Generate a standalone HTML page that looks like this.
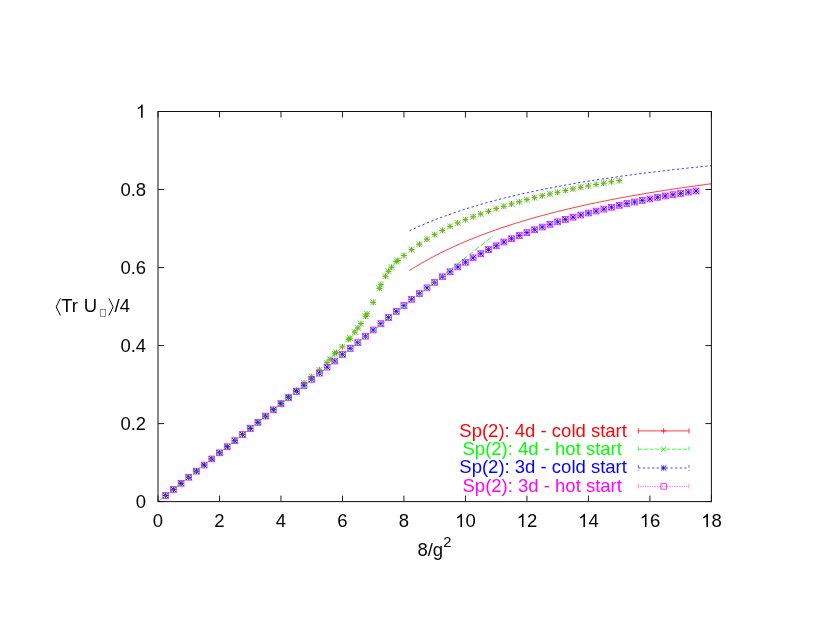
<!DOCTYPE html>
<html><head><meta charset="utf-8"><title>plot</title>
<style>
html,body{margin:0;padding:0;background:#fff;}
svg{display:block;font-family:"Liberation Sans",sans-serif;}
.d path,.d rect,.d polyline{stroke-width:0.75;fill:none}
.d .f polyline{stroke-width:0.8}
.d path.x{stroke-width:0.9}
.d .f polyline.g{stroke-width:0.85}
</style></head><body>
<svg width="817" height="632" viewBox="0 0 817 632">
<rect width="817" height="632" fill="#fff"/>
<g class="d">
<path d="M162.79 495.50H168.59M165.69 492.60V498.40" stroke="#ff0000"/>
<path d="M170.47 489.41H176.27M173.37 486.51V492.31" stroke="#ff0000"/>
<path d="M178.16 483.31H183.96M181.06 480.41V486.21" stroke="#ff0000"/>
<path d="M185.84 477.22H191.64M188.74 474.32V480.12" stroke="#ff0000"/>
<path d="M193.53 471.12H199.33M196.43 468.22V474.02" stroke="#ff0000"/>
<path d="M201.22 465.03H207.02M204.12 462.13V467.93" stroke="#ff0000"/>
<path d="M208.90 458.93H214.70M211.80 456.03V461.83" stroke="#ff0000"/>
<path d="M216.59 452.84H222.39M219.49 449.94V455.74" stroke="#ff0000"/>
<path d="M224.28 446.74H230.08M227.18 443.84V449.64" stroke="#ff0000"/>
<path d="M231.96 440.65H237.76M234.86 437.75V443.55" stroke="#ff0000"/>
<path d="M239.65 434.55H245.45M242.55 431.65V437.45" stroke="#ff0000"/>
<path d="M247.33 428.46H253.13M250.23 425.56V431.36" stroke="#ff0000"/>
<path d="M255.02 422.36H260.82M257.92 419.46V425.26" stroke="#ff0000"/>
<path d="M262.71 416.27H268.51M265.61 413.37V419.17" stroke="#ff0000"/>
<path d="M270.39 409.59H276.19M273.29 406.69V412.49" stroke="#ff0000"/>
<path d="M278.08 403.10H283.88M280.98 400.20V406.00" stroke="#ff0000"/>
<path d="M285.76 396.61H291.56M288.66 393.71V399.51" stroke="#ff0000"/>
<path d="M293.45 390.07H299.25M296.35 387.17V392.97" stroke="#ff0000"/>
<path d="M301.14 382.97H306.94M304.04 380.07V385.87" stroke="#ff0000"/>
<path d="M308.82 376.57H314.62M311.72 373.67V379.47" stroke="#ff0000"/>
<path d="M316.51 369.86H322.31M319.41 366.96V372.76" stroke="#ff0000"/>
<path d="M324.19 362.76H329.99M327.09 359.86V365.66" stroke="#ff0000"/>
<path d="M327.27 359.17H333.07M330.17 356.27V362.07" stroke="#ff0000"/>
<path d="M331.88 353.75H337.68M334.78 350.85V356.65" stroke="#ff0000"/>
<path d="M333.42 352.39H339.22M336.32 349.49V355.29" stroke="#ff0000"/>
<path d="M339.57 346.85H345.37M342.47 343.95V349.75" stroke="#ff0000"/>
<path d="M345.72 339.32H351.52M348.62 336.42V342.22" stroke="#ff0000"/>
<path d="M347.25 338.15H353.05M350.15 335.25V341.05" stroke="#ff0000"/>
<path d="M351.86 332.02H357.66M354.76 329.12V334.92" stroke="#ff0000"/>
<path d="M354.94 328.01H360.74M357.84 325.11V330.91" stroke="#ff0000"/>
<path d="M358.01 323.60H363.81M360.91 320.70V326.50" stroke="#ff0000"/>
<path d="M362.62 316.30H368.42M365.52 313.40V319.20" stroke="#ff0000"/>
<path d="M364.16 313.96H369.96M367.06 311.06V316.86" stroke="#ff0000"/>
<path d="M370.31 302.26H376.11M373.21 299.36V305.16" stroke="#ff0000"/>
<path d="M376.46 288.33H382.26M379.36 285.43V291.23" stroke="#ff0000"/>
<path d="M378.00 284.51H383.80M380.90 281.61V287.41" stroke="#ff0000"/>
<path d="M382.61 276.24H388.41M385.51 273.34V279.14" stroke="#ff0000"/>
<path d="M385.68 271.25H391.48M388.58 268.35V274.15" stroke="#ff0000"/>
<path d="M388.76 267.15H394.56M391.66 264.25V270.05" stroke="#ff0000"/>
<path d="M393.37 261.49H399.17M396.27 258.59V264.39" stroke="#ff0000"/>
<path d="M394.91 260.52H400.71M397.81 257.62V263.42" stroke="#ff0000"/>
<path d="M401.06 255.45H406.86M403.96 252.55V258.35" stroke="#ff0000"/>
<path d="M408.74 249.60H414.54M411.64 246.70V252.50" stroke="#ff0000"/>
<path d="M416.43 244.13H422.23M419.33 241.23V247.03" stroke="#ff0000"/>
<path d="M424.11 239.14H429.91M427.01 236.24V242.04" stroke="#ff0000"/>
<path d="M431.80 234.65H437.60M434.70 231.75V237.55" stroke="#ff0000"/>
<path d="M439.49 230.48H445.29M442.39 227.58V233.38" stroke="#ff0000"/>
<path d="M447.17 226.38H452.97M450.07 223.48V229.28" stroke="#ff0000"/>
<path d="M454.86 222.95H460.66M457.76 220.05V225.85" stroke="#ff0000"/>
<path d="M462.54 219.79H468.34M465.44 216.89V222.69" stroke="#ff0000"/>
<path d="M470.23 216.83H476.03M473.13 213.93V219.73" stroke="#ff0000"/>
<path d="M477.92 213.98H483.72M480.82 211.08V216.88" stroke="#ff0000"/>
<path d="M485.60 211.44H491.40M488.50 208.54V214.34" stroke="#ff0000"/>
<path d="M493.29 208.71H499.09M496.19 205.81V211.61" stroke="#ff0000"/>
<path d="M500.98 206.29H506.77M503.88 203.39V209.19" stroke="#ff0000"/>
<path d="M508.66 203.95H514.46M511.56 201.05V206.85" stroke="#ff0000"/>
<path d="M516.35 201.89H522.15M519.25 198.99V204.79" stroke="#ff0000"/>
<path d="M524.03 199.66H529.83M526.93 196.76V202.56" stroke="#ff0000"/>
<path d="M531.72 197.75H537.52M534.62 194.85V200.65" stroke="#ff0000"/>
<path d="M539.41 195.72H545.21M542.31 192.82V198.62" stroke="#ff0000"/>
<path d="M547.09 193.97H552.89M549.99 191.07V196.87" stroke="#ff0000"/>
<path d="M554.78 192.25H560.58M557.68 189.35V195.15" stroke="#ff0000"/>
<path d="M562.46 190.50H568.26M565.36 187.60V193.40" stroke="#ff0000"/>
<path d="M570.15 188.90H575.95M573.05 186.00V191.80" stroke="#ff0000"/>
<path d="M577.84 187.34H583.64M580.74 184.44V190.24" stroke="#ff0000"/>
<path d="M585.52 185.93H591.32M588.42 183.03V188.83" stroke="#ff0000"/>
<path d="M593.21 184.45H599.01M596.11 181.55V187.35" stroke="#ff0000"/>
<path d="M600.89 183.20H606.69M603.79 180.30V186.10" stroke="#ff0000"/>
<path d="M608.58 181.72H614.38M611.48 178.82V184.62" stroke="#ff0000"/>
<path d="M616.27 180.63H622.07M619.17 177.73V183.53" stroke="#ff0000"/>
<path d="M162.79 495.50H166.27" stroke="#00ff00"/><path d="M162.79 492.60L168.59 498.40M162.79 498.40L168.59 492.60" stroke="#00ff00" class="x"/>
<path d="M170.47 489.41H173.95" stroke="#00ff00"/><path d="M170.47 486.51L176.27 492.31M170.47 492.31L176.27 486.51" stroke="#00ff00" class="x"/>
<path d="M178.16 483.31H181.64" stroke="#00ff00"/><path d="M178.16 480.41L183.96 486.21M178.16 486.21L183.96 480.41" stroke="#00ff00" class="x"/>
<path d="M185.84 477.22H189.32" stroke="#00ff00"/><path d="M185.84 474.32L191.64 480.12M185.84 480.12L191.64 474.32" stroke="#00ff00" class="x"/>
<path d="M193.53 471.12H197.01" stroke="#00ff00"/><path d="M193.53 468.22L199.33 474.02M193.53 474.02L199.33 468.22" stroke="#00ff00" class="x"/>
<path d="M201.22 465.03H204.70" stroke="#00ff00"/><path d="M201.22 462.13L207.02 467.93M201.22 467.93L207.02 462.13" stroke="#00ff00" class="x"/>
<path d="M208.90 458.93H212.38" stroke="#00ff00"/><path d="M208.90 456.03L214.70 461.83M208.90 461.83L214.70 456.03" stroke="#00ff00" class="x"/>
<path d="M216.59 452.84H220.07" stroke="#00ff00"/><path d="M216.59 449.94L222.39 455.74M216.59 455.74L222.39 449.94" stroke="#00ff00" class="x"/>
<path d="M224.28 446.74H227.76" stroke="#00ff00"/><path d="M224.28 443.84L230.08 449.64M224.28 449.64L230.08 443.84" stroke="#00ff00" class="x"/>
<path d="M231.96 440.65H235.44" stroke="#00ff00"/><path d="M231.96 437.75L237.76 443.55M231.96 443.55L237.76 437.75" stroke="#00ff00" class="x"/>
<path d="M239.65 434.55H243.13" stroke="#00ff00"/><path d="M239.65 431.65L245.45 437.45M239.65 437.45L245.45 431.65" stroke="#00ff00" class="x"/>
<path d="M247.33 428.46H250.81" stroke="#00ff00"/><path d="M247.33 425.56L253.13 431.36M247.33 431.36L253.13 425.56" stroke="#00ff00" class="x"/>
<path d="M255.02 422.36H258.50" stroke="#00ff00"/><path d="M255.02 419.46L260.82 425.26M255.02 425.26L260.82 419.46" stroke="#00ff00" class="x"/>
<path d="M262.71 416.27H266.19" stroke="#00ff00"/><path d="M262.71 413.37L268.51 419.17M262.71 419.17L268.51 413.37" stroke="#00ff00" class="x"/>
<path d="M270.39 409.59H273.87" stroke="#00ff00"/><path d="M270.39 406.69L276.19 412.49M270.39 412.49L276.19 406.69" stroke="#00ff00" class="x"/>
<path d="M278.08 403.10H281.56" stroke="#00ff00"/><path d="M278.08 400.20L283.88 406.00M278.08 406.00L283.88 400.20" stroke="#00ff00" class="x"/>
<path d="M285.76 396.61H289.24" stroke="#00ff00"/><path d="M285.76 393.71L291.56 399.51M285.76 399.51L291.56 393.71" stroke="#00ff00" class="x"/>
<path d="M293.45 390.07H296.93" stroke="#00ff00"/><path d="M293.45 387.17L299.25 392.97M293.45 392.97L299.25 387.17" stroke="#00ff00" class="x"/>
<path d="M301.14 382.97H304.62" stroke="#00ff00"/><path d="M301.14 380.07L306.94 385.87M301.14 385.87L306.94 380.07" stroke="#00ff00" class="x"/>
<path d="M308.82 376.57H312.30" stroke="#00ff00"/><path d="M308.82 373.67L314.62 379.47M308.82 379.47L314.62 373.67" stroke="#00ff00" class="x"/>
<path d="M316.51 369.86H319.99" stroke="#00ff00"/><path d="M316.51 366.96L322.31 372.76M316.51 372.76L322.31 366.96" stroke="#00ff00" class="x"/>
<path d="M324.19 362.76H327.67" stroke="#00ff00"/><path d="M324.19 359.86L329.99 365.66M324.19 365.66L329.99 359.86" stroke="#00ff00" class="x"/>
<path d="M327.27 359.17H330.75" stroke="#00ff00"/><path d="M327.27 356.27L333.07 362.07M327.27 362.07L333.07 356.27" stroke="#00ff00" class="x"/>
<path d="M331.88 353.75H335.36" stroke="#00ff00"/><path d="M331.88 350.85L337.68 356.65M331.88 356.65L337.68 350.85" stroke="#00ff00" class="x"/>
<path d="M333.42 352.39H336.90" stroke="#00ff00"/><path d="M333.42 349.49L339.22 355.29M333.42 355.29L339.22 349.49" stroke="#00ff00" class="x"/>
<path d="M339.57 346.85H343.05" stroke="#00ff00"/><path d="M339.57 343.95L345.37 349.75M339.57 349.75L345.37 343.95" stroke="#00ff00" class="x"/>
<path d="M345.72 339.32H349.20" stroke="#00ff00"/><path d="M345.72 336.42L351.52 342.22M345.72 342.22L351.52 336.42" stroke="#00ff00" class="x"/>
<path d="M347.25 338.15H350.73" stroke="#00ff00"/><path d="M347.25 335.25L353.05 341.05M347.25 341.05L353.05 335.25" stroke="#00ff00" class="x"/>
<path d="M351.86 332.02H355.34" stroke="#00ff00"/><path d="M351.86 329.12L357.66 334.92M351.86 334.92L357.66 329.12" stroke="#00ff00" class="x"/>
<path d="M354.94 328.01H358.42" stroke="#00ff00"/><path d="M354.94 325.11L360.74 330.91M354.94 330.91L360.74 325.11" stroke="#00ff00" class="x"/>
<path d="M358.01 323.60H361.49" stroke="#00ff00"/><path d="M358.01 320.70L363.81 326.50M358.01 326.50L363.81 320.70" stroke="#00ff00" class="x"/>
<path d="M362.62 316.30H366.10" stroke="#00ff00"/><path d="M362.62 313.40L368.42 319.20M362.62 319.20L368.42 313.40" stroke="#00ff00" class="x"/>
<path d="M364.16 313.96H367.64" stroke="#00ff00"/><path d="M364.16 311.06L369.96 316.86M364.16 316.86L369.96 311.06" stroke="#00ff00" class="x"/>
<path d="M370.31 302.26H373.79" stroke="#00ff00"/><path d="M370.31 299.36L376.11 305.16M370.31 305.16L376.11 299.36" stroke="#00ff00" class="x"/>
<path d="M376.46 288.33H379.94" stroke="#00ff00"/><path d="M376.46 285.43L382.26 291.23M376.46 291.23L382.26 285.43" stroke="#00ff00" class="x"/>
<path d="M378.00 284.51H381.48" stroke="#00ff00"/><path d="M378.00 281.61L383.80 287.41M378.00 287.41L383.80 281.61" stroke="#00ff00" class="x"/>
<path d="M382.61 276.24H386.09" stroke="#00ff00"/><path d="M382.61 273.34L388.41 279.14M382.61 279.14L388.41 273.34" stroke="#00ff00" class="x"/>
<path d="M385.68 271.25H389.16" stroke="#00ff00"/><path d="M385.68 268.35L391.48 274.15M385.68 274.15L391.48 268.35" stroke="#00ff00" class="x"/>
<path d="M388.76 267.15H392.24" stroke="#00ff00"/><path d="M388.76 264.25L394.56 270.05M388.76 270.05L394.56 264.25" stroke="#00ff00" class="x"/>
<path d="M393.37 261.49H396.85" stroke="#00ff00"/><path d="M393.37 258.59L399.17 264.39M393.37 264.39L399.17 258.59" stroke="#00ff00" class="x"/>
<path d="M394.91 260.52H398.39" stroke="#00ff00"/><path d="M394.91 257.62L400.71 263.42M394.91 263.42L400.71 257.62" stroke="#00ff00" class="x"/>
<path d="M401.06 255.45H404.54" stroke="#00ff00"/><path d="M401.06 252.55L406.86 258.35M401.06 258.35L406.86 252.55" stroke="#00ff00" class="x"/>
<path d="M408.74 249.60H412.22" stroke="#00ff00"/><path d="M408.74 246.70L414.54 252.50M408.74 252.50L414.54 246.70" stroke="#00ff00" class="x"/>
<path d="M416.43 244.13H419.91" stroke="#00ff00"/><path d="M416.43 241.23L422.23 247.03M416.43 247.03L422.23 241.23" stroke="#00ff00" class="x"/>
<path d="M424.11 239.14H427.59" stroke="#00ff00"/><path d="M424.11 236.24L429.91 242.04M424.11 242.04L429.91 236.24" stroke="#00ff00" class="x"/>
<path d="M431.80 234.65H435.28" stroke="#00ff00"/><path d="M431.80 231.75L437.60 237.55M431.80 237.55L437.60 231.75" stroke="#00ff00" class="x"/>
<path d="M439.49 230.48H442.97" stroke="#00ff00"/><path d="M439.49 227.58L445.29 233.38M439.49 233.38L445.29 227.58" stroke="#00ff00" class="x"/>
<path d="M447.17 226.38H450.65" stroke="#00ff00"/><path d="M447.17 223.48L452.97 229.28M447.17 229.28L452.97 223.48" stroke="#00ff00" class="x"/>
<path d="M454.86 222.95H458.34" stroke="#00ff00"/><path d="M454.86 220.05L460.66 225.85M454.86 225.85L460.66 220.05" stroke="#00ff00" class="x"/>
<path d="M462.54 219.79H466.02" stroke="#00ff00"/><path d="M462.54 216.89L468.34 222.69M462.54 222.69L468.34 216.89" stroke="#00ff00" class="x"/>
<path d="M470.23 216.83H473.71" stroke="#00ff00"/><path d="M470.23 213.93L476.03 219.73M470.23 219.73L476.03 213.93" stroke="#00ff00" class="x"/>
<path d="M477.92 213.98H481.40" stroke="#00ff00"/><path d="M477.92 211.08L483.72 216.88M477.92 216.88L483.72 211.08" stroke="#00ff00" class="x"/>
<path d="M485.60 211.44H489.08" stroke="#00ff00"/><path d="M485.60 208.54L491.40 214.34M485.60 214.34L491.40 208.54" stroke="#00ff00" class="x"/>
<path d="M493.29 208.71H496.77" stroke="#00ff00"/><path d="M493.29 205.81L499.09 211.61M493.29 211.61L499.09 205.81" stroke="#00ff00" class="x"/>
<path d="M500.98 206.29H504.45" stroke="#00ff00"/><path d="M500.98 203.39L506.77 209.19M500.98 209.19L506.77 203.39" stroke="#00ff00" class="x"/>
<path d="M508.66 203.95H512.14" stroke="#00ff00"/><path d="M508.66 201.05L514.46 206.85M508.66 206.85L514.46 201.05" stroke="#00ff00" class="x"/>
<path d="M516.35 201.89H519.83" stroke="#00ff00"/><path d="M516.35 198.99L522.15 204.79M516.35 204.79L522.15 198.99" stroke="#00ff00" class="x"/>
<path d="M524.03 199.66H527.51" stroke="#00ff00"/><path d="M524.03 196.76L529.83 202.56M524.03 202.56L529.83 196.76" stroke="#00ff00" class="x"/>
<path d="M531.72 197.75H535.20" stroke="#00ff00"/><path d="M531.72 194.85L537.52 200.65M531.72 200.65L537.52 194.85" stroke="#00ff00" class="x"/>
<path d="M539.41 195.72H542.89" stroke="#00ff00"/><path d="M539.41 192.82L545.21 198.62M539.41 198.62L545.21 192.82" stroke="#00ff00" class="x"/>
<path d="M547.09 193.97H550.57" stroke="#00ff00"/><path d="M547.09 191.07L552.89 196.87M547.09 196.87L552.89 191.07" stroke="#00ff00" class="x"/>
<path d="M554.78 192.25H558.26" stroke="#00ff00"/><path d="M554.78 189.35L560.58 195.15M554.78 195.15L560.58 189.35" stroke="#00ff00" class="x"/>
<path d="M562.46 190.50H565.94" stroke="#00ff00"/><path d="M562.46 187.60L568.26 193.40M562.46 193.40L568.26 187.60" stroke="#00ff00" class="x"/>
<path d="M570.15 188.90H573.63" stroke="#00ff00"/><path d="M570.15 186.00L575.95 191.80M570.15 191.80L575.95 186.00" stroke="#00ff00" class="x"/>
<path d="M577.84 187.34H581.32" stroke="#00ff00"/><path d="M577.84 184.44L583.64 190.24M577.84 190.24L583.64 184.44" stroke="#00ff00" class="x"/>
<path d="M585.52 185.93H589.00" stroke="#00ff00"/><path d="M585.52 183.03L591.32 188.83M585.52 188.83L591.32 183.03" stroke="#00ff00" class="x"/>
<path d="M593.21 184.45H596.69" stroke="#00ff00"/><path d="M593.21 181.55L599.01 187.35M593.21 187.35L599.01 181.55" stroke="#00ff00" class="x"/>
<path d="M600.89 183.20H604.37" stroke="#00ff00"/><path d="M600.89 180.30L606.69 186.10M600.89 186.10L606.69 180.30" stroke="#00ff00" class="x"/>
<path d="M608.58 181.72H612.06" stroke="#00ff00"/><path d="M608.58 178.82L614.38 184.62M608.58 184.62L614.38 178.82" stroke="#00ff00" class="x"/>
<path d="M616.27 180.63H619.75" stroke="#00ff00"/><path d="M616.27 177.73L622.07 183.53M616.27 183.53L622.07 177.73" stroke="#00ff00" class="x"/>
<path d="M162.79 495.50H168.59M165.69 492.60V498.40" stroke="#0000ff"/><path d="M162.79 492.60L168.59 498.40M162.79 498.40L168.59 492.60" stroke="#0000ff" class="x"/>
<path d="M170.47 489.41H176.27M173.37 486.51V492.31" stroke="#0000ff"/><path d="M170.47 486.51L176.27 492.31M170.47 492.31L176.27 486.51" stroke="#0000ff" class="x"/>
<path d="M178.16 483.31H183.96M181.06 480.41V486.21" stroke="#0000ff"/><path d="M178.16 480.41L183.96 486.21M178.16 486.21L183.96 480.41" stroke="#0000ff" class="x"/>
<path d="M185.84 477.22H191.64M188.74 474.32V480.12" stroke="#0000ff"/><path d="M185.84 474.32L191.64 480.12M185.84 480.12L191.64 474.32" stroke="#0000ff" class="x"/>
<path d="M193.53 471.12H199.33M196.43 468.22V474.02" stroke="#0000ff"/><path d="M193.53 468.22L199.33 474.02M193.53 474.02L199.33 468.22" stroke="#0000ff" class="x"/>
<path d="M201.22 465.03H207.02M204.12 462.13V467.93" stroke="#0000ff"/><path d="M201.22 462.13L207.02 467.93M201.22 467.93L207.02 462.13" stroke="#0000ff" class="x"/>
<path d="M208.90 458.93H214.70M211.80 456.03V461.83" stroke="#0000ff"/><path d="M208.90 456.03L214.70 461.83M208.90 461.83L214.70 456.03" stroke="#0000ff" class="x"/>
<path d="M216.59 452.84H222.39M219.49 449.94V455.74" stroke="#0000ff"/><path d="M216.59 449.94L222.39 455.74M216.59 455.74L222.39 449.94" stroke="#0000ff" class="x"/>
<path d="M224.28 446.74H230.08M227.18 443.84V449.64" stroke="#0000ff"/><path d="M224.28 443.84L230.08 449.64M224.28 449.64L230.08 443.84" stroke="#0000ff" class="x"/>
<path d="M231.96 440.65H237.76M234.86 437.75V443.55" stroke="#0000ff"/><path d="M231.96 437.75L237.76 443.55M231.96 443.55L237.76 437.75" stroke="#0000ff" class="x"/>
<path d="M239.65 434.55H245.45M242.55 431.65V437.45" stroke="#0000ff"/><path d="M239.65 431.65L245.45 437.45M239.65 437.45L245.45 431.65" stroke="#0000ff" class="x"/>
<path d="M247.33 428.46H253.13M250.23 425.56V431.36" stroke="#0000ff"/><path d="M247.33 425.56L253.13 431.36M247.33 431.36L253.13 425.56" stroke="#0000ff" class="x"/>
<path d="M255.02 422.36H260.82M257.92 419.46V425.26" stroke="#0000ff"/><path d="M255.02 419.46L260.82 425.26M255.02 425.26L260.82 419.46" stroke="#0000ff" class="x"/>
<path d="M262.71 416.07H268.51M265.61 413.17V418.97" stroke="#0000ff"/><path d="M262.71 413.17L268.51 418.97M262.71 418.97L268.51 413.17" stroke="#0000ff" class="x"/>
<path d="M270.39 409.86H276.19M273.29 406.96V412.76" stroke="#0000ff"/><path d="M270.39 406.96L276.19 412.76M270.39 412.76L276.19 406.96" stroke="#0000ff" class="x"/>
<path d="M278.08 403.68H283.88M280.98 400.78V406.58" stroke="#0000ff"/><path d="M278.08 400.78L283.88 406.58M278.08 406.58L283.88 400.78" stroke="#0000ff" class="x"/>
<path d="M285.76 397.59H291.56M288.66 394.69V400.49" stroke="#0000ff"/><path d="M285.76 394.69L291.56 400.49M285.76 400.49L291.56 394.69" stroke="#0000ff" class="x"/>
<path d="M293.45 391.49H299.25M296.35 388.59V394.39" stroke="#0000ff"/><path d="M293.45 388.59L299.25 394.39M293.45 394.39L299.25 388.59" stroke="#0000ff" class="x"/>
<path d="M301.14 385.58H306.94M304.04 382.68V388.48" stroke="#0000ff"/><path d="M301.14 382.68L306.94 388.48M301.14 388.48L306.94 382.68" stroke="#0000ff" class="x"/>
<path d="M308.82 379.38H314.62M311.72 376.48V382.28" stroke="#0000ff"/><path d="M308.82 376.48L314.62 382.28M308.82 382.28L314.62 376.48" stroke="#0000ff" class="x"/>
<path d="M316.51 373.18H322.31M319.41 370.28V376.08" stroke="#0000ff"/><path d="M316.51 370.28L322.31 376.08M316.51 376.08L322.31 370.28" stroke="#0000ff" class="x"/>
<path d="M324.19 367.17H329.99M327.09 364.27V370.07" stroke="#0000ff"/><path d="M324.19 364.27L329.99 370.07M324.19 370.07L329.99 364.27" stroke="#0000ff" class="x"/>
<path d="M331.88 361.05H337.68M334.78 358.15V363.95" stroke="#0000ff"/><path d="M331.88 358.15L337.68 363.95M331.88 363.95L337.68 358.15" stroke="#0000ff" class="x"/>
<path d="M339.57 354.45H345.37M342.47 351.55V357.35" stroke="#0000ff"/><path d="M339.57 351.55L345.37 357.35M339.57 357.35L345.37 351.55" stroke="#0000ff" class="x"/>
<path d="M347.25 348.45H353.05M350.15 345.55V351.35" stroke="#0000ff"/><path d="M347.25 345.55L353.05 351.35M347.25 351.35L353.05 345.55" stroke="#0000ff" class="x"/>
<path d="M354.94 342.63H360.74M357.84 339.73V345.53" stroke="#0000ff"/><path d="M354.94 339.73L360.74 345.53M354.94 345.53L360.74 339.73" stroke="#0000ff" class="x"/>
<path d="M362.62 336.20H368.42M365.52 333.30V339.10" stroke="#0000ff"/><path d="M362.62 333.30L368.42 339.10M362.62 339.10L368.42 333.30" stroke="#0000ff" class="x"/>
<path d="M370.31 329.96H376.11M373.21 327.06V332.86" stroke="#0000ff"/><path d="M370.31 327.06L376.11 332.86M370.31 332.86L376.11 327.06" stroke="#0000ff" class="x"/>
<path d="M378.00 323.64H383.80M380.90 320.74V326.54" stroke="#0000ff"/><path d="M378.00 320.74L383.80 326.54M378.00 326.54L383.80 320.74" stroke="#0000ff" class="x"/>
<path d="M385.68 317.55H391.48M388.58 314.65V320.45" stroke="#0000ff"/><path d="M385.68 314.65L391.48 320.45M385.68 320.45L391.48 314.65" stroke="#0000ff" class="x"/>
<path d="M393.37 311.35H399.17M396.27 308.45V314.25" stroke="#0000ff"/><path d="M393.37 308.45L399.17 314.25M393.37 314.25L399.17 308.45" stroke="#0000ff" class="x"/>
<path d="M401.06 305.54H406.86M403.96 302.64V308.44" stroke="#0000ff"/><path d="M401.06 302.64L406.86 308.44M401.06 308.44L406.86 302.64" stroke="#0000ff" class="x"/>
<path d="M408.74 299.33H414.54M411.64 296.43V302.23" stroke="#0000ff"/><path d="M408.74 296.43L414.54 302.23M408.74 302.23L414.54 296.43" stroke="#0000ff" class="x"/>
<path d="M416.43 293.64H422.23M419.33 290.74V296.54" stroke="#0000ff"/><path d="M416.43 290.74L422.23 296.54M416.43 296.54L422.23 290.74" stroke="#0000ff" class="x"/>
<path d="M424.11 287.83H429.91M427.01 284.93V290.73" stroke="#0000ff"/><path d="M424.11 284.93L429.91 290.73M424.11 290.73L429.91 284.93" stroke="#0000ff" class="x"/>
<path d="M431.80 282.36H437.60M434.70 279.46V285.26" stroke="#0000ff"/><path d="M431.80 279.46L437.60 285.26M431.80 285.26L437.60 279.46" stroke="#0000ff" class="x"/>
<path d="M439.49 276.75H445.29M442.39 273.85V279.65" stroke="#0000ff"/><path d="M439.49 273.85L445.29 279.65M439.49 279.65L445.29 273.85" stroke="#0000ff" class="x"/>
<path d="M447.17 271.75H452.97M450.07 268.85V274.65" stroke="#0000ff"/><path d="M447.17 268.85L452.97 274.65M447.17 274.65L452.97 268.85" stroke="#0000ff" class="x"/>
<path d="M454.86 266.95H460.66M457.76 264.05V269.85" stroke="#0000ff"/><path d="M454.86 264.05L460.66 269.85M454.86 269.85L460.66 264.05" stroke="#0000ff" class="x"/>
<path d="M462.54 262.23H468.34M465.44 259.33V265.13" stroke="#0000ff"/><path d="M462.54 259.33L468.34 265.13M462.54 265.13L468.34 259.33" stroke="#0000ff" class="x"/>
<path d="M470.23 257.79H476.03M473.13 254.89V260.69" stroke="#0000ff"/><path d="M470.23 254.89L476.03 260.69M470.23 260.69L476.03 254.89" stroke="#0000ff" class="x"/>
<path d="M477.92 253.65H483.72M480.82 250.75V256.55" stroke="#0000ff"/><path d="M477.92 250.75L483.72 256.55M477.92 256.55L483.72 250.75" stroke="#0000ff" class="x"/>
<path d="M485.60 249.60H491.40M488.50 246.70V252.50" stroke="#0000ff"/><path d="M485.60 246.70L491.40 252.50M485.60 252.50L491.40 246.70" stroke="#0000ff" class="x"/>
<path d="M493.29 245.77H499.09M496.19 242.87V248.67" stroke="#0000ff"/><path d="M493.29 242.87L499.09 248.67M493.29 248.67L499.09 242.87" stroke="#0000ff" class="x"/>
<path d="M500.98 242.03H506.77M503.88 239.13V244.93" stroke="#0000ff"/><path d="M500.98 239.13L506.77 244.93M500.98 244.93L506.77 239.13" stroke="#0000ff" class="x"/>
<path d="M508.66 238.75H514.46M511.56 235.85V241.65" stroke="#0000ff"/><path d="M508.66 235.85L514.46 241.65M508.66 241.65L514.46 235.85" stroke="#0000ff" class="x"/>
<path d="M516.35 235.55H522.15M519.25 232.65V238.45" stroke="#0000ff"/><path d="M516.35 232.65L522.15 238.45M516.35 238.45L522.15 232.65" stroke="#0000ff" class="x"/>
<path d="M524.03 232.59H529.83M526.93 229.69V235.49" stroke="#0000ff"/><path d="M524.03 229.69L529.83 235.49M524.03 235.49L529.83 229.69" stroke="#0000ff" class="x"/>
<path d="M531.72 229.70H537.52M534.62 226.80V232.60" stroke="#0000ff"/><path d="M531.72 226.80L537.52 232.60M531.72 232.60L537.52 226.80" stroke="#0000ff" class="x"/>
<path d="M539.41 227.05H545.21M542.31 224.15V229.95" stroke="#0000ff"/><path d="M539.41 224.15L545.21 229.95M539.41 229.95L545.21 224.15" stroke="#0000ff" class="x"/>
<path d="M547.09 224.36H552.89M549.99 221.46V227.26" stroke="#0000ff"/><path d="M547.09 221.46L552.89 227.26M547.09 227.26L552.89 221.46" stroke="#0000ff" class="x"/>
<path d="M554.78 221.82H560.58M557.68 218.92V224.72" stroke="#0000ff"/><path d="M554.78 218.92L560.58 224.72M554.78 224.72L560.58 218.92" stroke="#0000ff" class="x"/>
<path d="M562.46 219.44H568.26M565.36 216.54V222.34" stroke="#0000ff"/><path d="M562.46 216.54L568.26 222.34M562.46 222.34L568.26 216.54" stroke="#0000ff" class="x"/>
<path d="M570.15 217.22H575.95M573.05 214.32V220.12" stroke="#0000ff"/><path d="M570.15 214.32L575.95 220.12M570.15 220.12L575.95 214.32" stroke="#0000ff" class="x"/>
<path d="M577.84 215.03H583.64M580.74 212.13V217.93" stroke="#0000ff"/><path d="M577.84 212.13L583.64 217.93M577.84 217.93L583.64 212.13" stroke="#0000ff" class="x"/>
<path d="M585.52 213.04H591.32M588.42 210.14V215.94" stroke="#0000ff"/><path d="M585.52 210.14L591.32 215.94M585.52 215.94L591.32 210.14" stroke="#0000ff" class="x"/>
<path d="M593.21 211.05H599.01M596.11 208.15V213.95" stroke="#0000ff"/><path d="M593.21 208.15L599.01 213.95M593.21 213.95L599.01 208.15" stroke="#0000ff" class="x"/>
<path d="M600.89 209.14H606.69M603.79 206.24V212.04" stroke="#0000ff"/><path d="M600.89 206.24L606.69 212.04M600.89 212.04L606.69 206.24" stroke="#0000ff" class="x"/>
<path d="M608.58 207.23H614.38M611.48 204.33V210.13" stroke="#0000ff"/><path d="M608.58 204.33L614.38 210.13M608.58 210.13L614.38 204.33" stroke="#0000ff" class="x"/>
<path d="M616.27 205.32H622.07M619.17 202.42V208.22" stroke="#0000ff"/><path d="M616.27 202.42L622.07 208.22M616.27 208.22L622.07 202.42" stroke="#0000ff" class="x"/>
<path d="M623.95 203.56H629.75M626.85 200.66V206.46" stroke="#0000ff"/><path d="M623.95 200.66L629.75 206.46M623.95 206.46L629.75 200.66" stroke="#0000ff" class="x"/>
<path d="M631.64 202.00H637.44M634.54 199.10V204.90" stroke="#0000ff"/><path d="M631.64 199.10L637.44 204.90M631.64 204.90L637.44 199.10" stroke="#0000ff" class="x"/>
<path d="M639.32 200.44H645.12M642.22 197.54V203.34" stroke="#0000ff"/><path d="M639.32 197.54L645.12 203.34M639.32 203.34L645.12 197.54" stroke="#0000ff" class="x"/>
<path d="M647.01 198.96H652.81M649.91 196.06V201.86" stroke="#0000ff"/><path d="M647.01 196.06L652.81 201.86M647.01 201.86L652.81 196.06" stroke="#0000ff" class="x"/>
<path d="M654.70 197.32H660.50M657.60 194.42V200.22" stroke="#0000ff"/><path d="M654.70 194.42L660.50 200.22M654.70 200.22L660.50 194.42" stroke="#0000ff" class="x"/>
<path d="M662.38 195.96H668.18M665.28 193.06V198.86" stroke="#0000ff"/><path d="M662.38 193.06L668.18 198.86M662.38 198.86L668.18 193.06" stroke="#0000ff" class="x"/>
<path d="M670.07 194.67H675.87M672.97 191.77V197.57" stroke="#0000ff"/><path d="M670.07 191.77L675.87 197.57M670.07 197.57L675.87 191.77" stroke="#0000ff" class="x"/>
<path d="M677.76 193.42H683.56M680.66 190.52V196.32" stroke="#0000ff"/><path d="M677.76 190.52L683.56 196.32M677.76 196.32L683.56 190.52" stroke="#0000ff" class="x"/>
<path d="M685.44 192.13H691.24M688.34 189.23V195.03" stroke="#0000ff"/><path d="M685.44 189.23L691.24 195.03M685.44 195.03L691.24 189.23" stroke="#0000ff" class="x"/>
<path d="M693.13 191.00H698.93M696.03 188.10V193.90" stroke="#0000ff"/><path d="M693.13 188.10L698.93 193.90M693.13 193.90L698.93 188.10" stroke="#0000ff" class="x"/>
<rect x="162.79" y="492.60" width="5.80" height="5.80" stroke="#ff00ff" fill="none"/>
<rect x="170.47" y="486.51" width="5.80" height="5.80" stroke="#ff00ff" fill="none"/>
<rect x="178.16" y="480.41" width="5.80" height="5.80" stroke="#ff00ff" fill="none"/>
<rect x="185.84" y="474.32" width="5.80" height="5.80" stroke="#ff00ff" fill="none"/>
<rect x="193.53" y="468.22" width="5.80" height="5.80" stroke="#ff00ff" fill="none"/>
<rect x="201.22" y="462.13" width="5.80" height="5.80" stroke="#ff00ff" fill="none"/>
<rect x="208.90" y="456.03" width="5.80" height="5.80" stroke="#ff00ff" fill="none"/>
<rect x="216.59" y="449.94" width="5.80" height="5.80" stroke="#ff00ff" fill="none"/>
<rect x="224.28" y="443.84" width="5.80" height="5.80" stroke="#ff00ff" fill="none"/>
<rect x="231.96" y="437.75" width="5.80" height="5.80" stroke="#ff00ff" fill="none"/>
<rect x="239.65" y="431.65" width="5.80" height="5.80" stroke="#ff00ff" fill="none"/>
<rect x="247.33" y="425.56" width="5.80" height="5.80" stroke="#ff00ff" fill="none"/>
<rect x="255.02" y="419.46" width="5.80" height="5.80" stroke="#ff00ff" fill="none"/>
<rect x="262.71" y="413.17" width="5.80" height="5.80" stroke="#ff00ff" fill="none"/>
<rect x="270.39" y="406.96" width="5.80" height="5.80" stroke="#ff00ff" fill="none"/>
<rect x="278.08" y="400.78" width="5.80" height="5.80" stroke="#ff00ff" fill="none"/>
<rect x="285.76" y="394.69" width="5.80" height="5.80" stroke="#ff00ff" fill="none"/>
<rect x="293.45" y="388.59" width="5.80" height="5.80" stroke="#ff00ff" fill="none"/>
<rect x="301.14" y="382.68" width="5.80" height="5.80" stroke="#ff00ff" fill="none"/>
<rect x="308.82" y="376.48" width="5.80" height="5.80" stroke="#ff00ff" fill="none"/>
<rect x="316.51" y="370.28" width="5.80" height="5.80" stroke="#ff00ff" fill="none"/>
<rect x="324.19" y="364.27" width="5.80" height="5.80" stroke="#ff00ff" fill="none"/>
<rect x="331.88" y="358.15" width="5.80" height="5.80" stroke="#ff00ff" fill="none"/>
<rect x="339.57" y="351.55" width="5.80" height="5.80" stroke="#ff00ff" fill="none"/>
<rect x="347.25" y="345.55" width="5.80" height="5.80" stroke="#ff00ff" fill="none"/>
<rect x="354.94" y="339.73" width="5.80" height="5.80" stroke="#ff00ff" fill="none"/>
<rect x="362.62" y="333.30" width="5.80" height="5.80" stroke="#ff00ff" fill="none"/>
<rect x="370.31" y="327.06" width="5.80" height="5.80" stroke="#ff00ff" fill="none"/>
<rect x="378.00" y="320.74" width="5.80" height="5.80" stroke="#ff00ff" fill="none"/>
<rect x="385.68" y="314.65" width="5.80" height="5.80" stroke="#ff00ff" fill="none"/>
<rect x="393.37" y="308.45" width="5.80" height="5.80" stroke="#ff00ff" fill="none"/>
<rect x="401.06" y="302.64" width="5.80" height="5.80" stroke="#ff00ff" fill="none"/>
<rect x="408.74" y="296.43" width="5.80" height="5.80" stroke="#ff00ff" fill="none"/>
<rect x="416.43" y="290.74" width="5.80" height="5.80" stroke="#ff00ff" fill="none"/>
<rect x="424.11" y="284.93" width="5.80" height="5.80" stroke="#ff00ff" fill="none"/>
<rect x="431.80" y="279.46" width="5.80" height="5.80" stroke="#ff00ff" fill="none"/>
<rect x="439.49" y="273.85" width="5.80" height="5.80" stroke="#ff00ff" fill="none"/>
<rect x="447.17" y="268.85" width="5.80" height="5.80" stroke="#ff00ff" fill="none"/>
<rect x="454.86" y="264.05" width="5.80" height="5.80" stroke="#ff00ff" fill="none"/>
<rect x="462.54" y="259.33" width="5.80" height="5.80" stroke="#ff00ff" fill="none"/>
<rect x="470.23" y="254.89" width="5.80" height="5.80" stroke="#ff00ff" fill="none"/>
<rect x="477.92" y="250.75" width="5.80" height="5.80" stroke="#ff00ff" fill="none"/>
<rect x="485.60" y="246.70" width="5.80" height="5.80" stroke="#ff00ff" fill="none"/>
<rect x="493.29" y="242.87" width="5.80" height="5.80" stroke="#ff00ff" fill="none"/>
<rect x="500.98" y="239.13" width="5.80" height="5.80" stroke="#ff00ff" fill="none"/>
<rect x="508.66" y="235.85" width="5.80" height="5.80" stroke="#ff00ff" fill="none"/>
<rect x="516.35" y="232.65" width="5.80" height="5.80" stroke="#ff00ff" fill="none"/>
<rect x="524.03" y="229.69" width="5.80" height="5.80" stroke="#ff00ff" fill="none"/>
<rect x="531.72" y="226.80" width="5.80" height="5.80" stroke="#ff00ff" fill="none"/>
<rect x="539.41" y="224.15" width="5.80" height="5.80" stroke="#ff00ff" fill="none"/>
<rect x="547.09" y="221.46" width="5.80" height="5.80" stroke="#ff00ff" fill="none"/>
<rect x="554.78" y="218.92" width="5.80" height="5.80" stroke="#ff00ff" fill="none"/>
<rect x="562.46" y="216.54" width="5.80" height="5.80" stroke="#ff00ff" fill="none"/>
<rect x="570.15" y="214.32" width="5.80" height="5.80" stroke="#ff00ff" fill="none"/>
<rect x="577.84" y="212.13" width="5.80" height="5.80" stroke="#ff00ff" fill="none"/>
<rect x="585.52" y="210.14" width="5.80" height="5.80" stroke="#ff00ff" fill="none"/>
<rect x="593.21" y="208.15" width="5.80" height="5.80" stroke="#ff00ff" fill="none"/>
<rect x="600.89" y="206.24" width="5.80" height="5.80" stroke="#ff00ff" fill="none"/>
<rect x="608.58" y="204.33" width="5.80" height="5.80" stroke="#ff00ff" fill="none"/>
<rect x="616.27" y="202.42" width="5.80" height="5.80" stroke="#ff00ff" fill="none"/>
<rect x="623.95" y="200.66" width="5.80" height="5.80" stroke="#ff00ff" fill="none"/>
<rect x="631.64" y="199.10" width="5.80" height="5.80" stroke="#ff00ff" fill="none"/>
<rect x="639.32" y="197.54" width="5.80" height="5.80" stroke="#ff00ff" fill="none"/>
<rect x="647.01" y="196.06" width="5.80" height="5.80" stroke="#ff00ff" fill="none"/>
<rect x="654.70" y="194.42" width="5.80" height="5.80" stroke="#ff00ff" fill="none"/>
<rect x="662.38" y="193.06" width="5.80" height="5.80" stroke="#ff00ff" fill="none"/>
<rect x="670.07" y="191.77" width="5.80" height="5.80" stroke="#ff00ff" fill="none"/>
<rect x="677.76" y="190.52" width="5.80" height="5.80" stroke="#ff00ff" fill="none"/>
<rect x="685.44" y="189.23" width="5.80" height="5.80" stroke="#ff00ff" fill="none"/>
<rect x="693.13" y="188.10" width="5.80" height="5.80" stroke="#ff00ff" fill="none"/>
<g class="f">
<polyline points="409.49,270.46 411.00,269.52 412.51,268.58 414.02,267.65 415.53,266.74 417.04,265.83 418.55,264.94 420.06,264.06 421.57,263.18 423.08,262.32 424.59,261.46 426.09,260.62 427.60,259.78 429.11,258.96 430.62,258.14 432.13,257.33 433.64,256.54 435.15,255.75 436.66,254.96 438.17,254.19 439.68,253.43 441.19,252.67 442.70,251.92 444.21,251.18 445.72,250.45 447.23,249.72 448.74,249.01 450.25,248.30 451.76,247.59 453.27,246.90 454.78,246.21 456.29,245.53 457.80,244.85 459.30,244.18 460.81,243.52 462.32,242.87 463.83,242.22 465.34,241.58 466.85,240.94 468.36,240.31 469.87,239.69 471.38,239.07 472.89,238.46 474.40,237.85 475.91,237.25 477.42,236.66 478.93,236.07 480.44,235.49 481.95,234.91 483.46,234.34 484.97,233.77 486.48,233.21 487.99,232.65 489.50,232.10 491.01,231.55 492.51,231.01 494.02,230.47 495.53,229.94 497.04,229.41 498.55,228.89 500.06,228.37 501.57,227.86 503.08,227.35 504.59,226.85 506.10,226.35 507.61,225.85 509.12,225.36 510.63,224.87 512.14,224.39 513.65,223.91 515.16,223.43 516.67,222.96 518.18,222.50 519.69,222.03 521.20,221.57 522.71,221.12 524.22,220.67 525.73,220.22 527.23,219.77 528.74,219.33 530.25,218.89 531.76,218.46 533.27,218.03 534.78,217.60 536.29,217.18 537.80,216.76 539.31,216.34 540.82,215.93 542.33,215.52 543.84,215.11 545.35,214.71 546.86,214.31 548.37,213.91 549.88,213.52 551.39,213.13 552.90,212.74 554.41,212.35 555.92,211.97 557.43,211.59 558.94,211.21 560.44,210.84 561.95,210.47 563.46,210.10 564.97,209.73 566.48,209.37 567.99,209.01 569.50,208.65 571.01,208.30 572.52,207.94 574.03,207.59 575.54,207.25 577.05,206.90 578.56,206.56 580.07,206.22 581.58,205.88 583.09,205.55 584.60,205.21 586.11,204.88 587.62,204.56 589.13,204.23 590.64,203.91 592.15,203.58 593.65,203.27 595.16,202.95 596.67,202.63 598.18,202.32 599.69,202.01 601.20,201.70 602.71,201.40 604.22,201.09 605.73,200.79 607.24,200.49 608.75,200.19 610.26,199.90 611.77,199.60 613.28,199.31 614.79,199.02 616.30,198.73 617.81,198.45 619.32,198.16 620.83,197.88 622.34,197.60 623.85,197.32 625.36,197.04 626.87,196.77 628.37,196.49 629.88,196.22 631.39,195.95 632.90,195.68 634.41,195.41 635.92,195.15 637.43,194.89 638.94,194.62 640.45,194.36 641.96,194.11 643.47,193.85 644.98,193.59 646.49,193.34 648.00,193.09 649.51,192.84 651.02,192.59 652.53,192.34 654.04,192.09 655.55,191.85 657.06,191.61 658.57,191.37 660.08,191.13 661.58,190.89 663.09,190.65 664.60,190.41 666.11,190.18 667.62,189.95 669.13,189.71 670.64,189.48 672.15,189.26 673.66,189.03 675.17,188.80 676.68,188.58 678.19,188.35 679.70,188.13 681.21,187.91 682.72,187.69 684.23,187.47 685.74,187.25 687.25,187.04 688.76,186.82 690.27,186.61 691.78,186.40 693.29,186.19 694.79,185.98 696.30,185.77 697.81,185.56 699.32,185.35 700.83,185.15 702.34,184.94 703.85,184.74 705.36,184.54 706.87,184.34 708.38,184.14 709.89,183.94 711.40,183.74" stroke="#ff0000" fill="none"/>
<polyline points="158.00,501.60 325.56,368.72 493.11,235.84" stroke="#00ff00" class="g" fill="none" stroke-dasharray="5.3 2.19"/>
<polyline points="409.49,230.72 411.00,230.01 412.51,229.31 414.02,228.61 415.53,227.93 417.04,227.25 418.55,226.58 420.06,225.92 421.57,225.26 423.08,224.61 424.59,223.97 426.09,223.34 427.60,222.71 429.11,222.09 430.62,221.48 432.13,220.88 433.64,220.28 435.15,219.68 436.66,219.10 438.17,218.52 439.68,217.95 441.19,217.38 442.70,216.82 444.21,216.26 445.72,215.71 447.23,215.17 448.74,214.63 450.25,214.10 451.76,213.57 453.27,213.05 454.78,212.53 456.29,212.02 457.80,211.51 459.30,211.01 460.81,210.52 462.32,210.03 463.83,209.54 465.34,209.06 466.85,208.58 468.36,208.11 469.87,207.64 471.38,207.18 472.89,206.72 474.40,206.26 475.91,205.81 477.42,205.37 478.93,204.93 480.44,204.49 481.95,204.06 483.46,203.63 484.97,203.20 486.48,202.78 487.99,202.36 489.50,201.95 491.01,201.54 492.51,201.13 494.02,200.73 495.53,200.33 497.04,199.94 498.55,199.54 500.06,199.16 501.57,198.77 503.08,198.39 504.59,198.01 506.10,197.63 507.61,197.26 509.12,196.89 510.63,196.53 512.14,196.17 513.65,195.81 515.16,195.45 516.67,195.10 518.18,194.75 519.69,194.40 521.20,194.05 522.71,193.71 524.22,193.37 525.73,193.04 527.23,192.70 528.74,192.37 530.25,192.05 531.76,191.72 533.27,191.40 534.78,191.08 536.29,190.76 537.80,190.45 539.31,190.13 540.82,189.82 542.33,189.52 543.84,189.21 545.35,188.91 546.86,188.61 548.37,188.31 549.88,188.01 551.39,187.72 552.90,187.43 554.41,187.14 555.92,186.85 557.43,186.57 558.94,186.28 560.44,186.00 561.95,185.73 563.46,185.45 564.97,185.17 566.48,184.90 567.99,184.63 569.50,184.36 571.01,184.10 572.52,183.83 574.03,183.57 575.54,183.31 577.05,183.05 578.56,182.79 580.07,182.54 581.58,182.29 583.09,182.03 584.60,181.79 586.11,181.54 587.62,181.29 589.13,181.05 590.64,180.80 592.15,180.56 593.65,180.32 595.16,180.09 596.67,179.85 598.18,179.62 599.69,179.38 601.20,179.15 602.71,178.92 604.22,178.69 605.73,178.47 607.24,178.24 608.75,178.02 610.26,177.80 611.77,177.58 613.28,177.36 614.79,177.14 616.30,176.92 617.81,176.71 619.32,176.50 620.83,176.28 622.34,176.07 623.85,175.86 625.36,175.66 626.87,175.45 628.37,175.24 629.88,175.04 631.39,174.84 632.90,174.64 634.41,174.44 635.92,174.24 637.43,174.04 638.94,173.84 640.45,173.65 641.96,173.45 643.47,173.26 644.98,173.07 646.49,172.88 648.00,172.69 649.51,172.50 651.02,172.32 652.53,172.13 654.04,171.95 655.55,171.76 657.06,171.58 658.57,171.40 660.08,171.22 661.58,171.04 663.09,170.86 664.60,170.69 666.11,170.51 667.62,170.33 669.13,170.16 670.64,169.99 672.15,169.82 673.66,169.65 675.17,169.48 676.68,169.31 678.19,169.14 679.70,168.97 681.21,168.81 682.72,168.64 684.23,168.48 685.74,168.32 687.25,168.15 688.76,167.99 690.27,167.83 691.78,167.67 693.29,167.51 694.79,167.36 696.30,167.20 697.81,167.04 699.32,166.89 700.83,166.74 702.34,166.58 703.85,166.43 705.36,166.28 706.87,166.13 708.38,165.98 709.89,165.83 711.40,165.68" stroke="#0000ff" fill="none" stroke-dasharray="2.3 2.45"/>
</g>
<path d="M638.3 430.9H689.0M638.3 428.2V433.59999999999997M689.0 428.2V433.59999999999997" stroke="#ff0000" fill="none"/>
<path d="M638.3 449.2H689.0M638.3 446.5V451.9M689.0 446.5V451.9" stroke="#00ff00" fill="none" stroke-dasharray="4 1.6"/>
<path d="M638.3 468.0H689.0M638.3 465.3V470.7M689.0 465.3V470.7" stroke="#0000ff" fill="none" stroke-dasharray="2.2 2.4"/>
<path d="M638.3 486.4H689.0M638.3 483.7V489.09999999999997M689.0 483.7V489.09999999999997" stroke="#ff00ff" fill="none" stroke-dasharray="0.8 0.9"/>
<path d="M660.95 430.90H666.35M663.65 428.20V433.60" stroke="#ff0000"/>
<path d="M660.95 446.50L666.35 451.90M660.95 451.90L666.35 446.50" stroke="#00ff00" class="x"/>
<path d="M660.95 468.00H666.35M663.65 465.30V470.70" stroke="#0000ff"/><path d="M660.95 465.30L666.35 470.70M660.95 470.70L666.35 465.30" stroke="#0000ff" class="x"/>
<rect x="660.95" y="483.70" width="5.40" height="5.40" stroke="#ff00ff" fill="none"/>
</g>
<rect x="158.0" y="111.5" width="553.40" height="390.10" fill="none" stroke="#111" stroke-width="1.0"/>
<path d="M158.00 501.6v-6M158.00 111.5v6M219.49 501.6v-6M219.49 111.5v6M280.98 501.6v-6M280.98 111.5v6M342.47 501.6v-6M342.47 111.5v6M403.96 501.6v-6M403.96 111.5v6M465.44 501.6v-6M465.44 111.5v6M526.93 501.6v-6M526.93 111.5v6M588.42 501.6v-6M588.42 111.5v6M649.91 501.6v-6M649.91 111.5v6M711.40 501.6v-6M711.40 111.5v6M158.0 501.60h6M711.4 501.60h-6M158.0 423.58h6M711.4 423.58h-6M158.0 345.56h6M711.4 345.56h-6M158.0 267.54h6M711.4 267.54h-6M158.0 189.52h6M711.4 189.52h-6M158.0 111.50h6M711.4 111.50h-6" stroke="#111" stroke-width="0.95" fill="none"/>
<g opacity="0.99">
<text transform="translate(158.00,527.00) scale(1.0,1)" text-anchor="middle" fill="#000" font-size="18.5">0</text>
<text transform="translate(219.49,527.00) scale(1.0,1)" text-anchor="middle" fill="#000" font-size="18.5">2</text>
<text transform="translate(280.98,527.00) scale(1.0,1)" text-anchor="middle" fill="#000" font-size="18.5">4</text>
<text transform="translate(342.47,527.00) scale(1.0,1)" text-anchor="middle" fill="#000" font-size="18.5">6</text>
<text transform="translate(403.96,527.00) scale(1.0,1)" text-anchor="middle" fill="#000" font-size="18.5">8</text>
<path transform="translate(455.16,527.00) scale(0.00903)" d="M763 0H583V-1147Q518 -1085 412.5 -1023Q307 -961 223 -930V-1104Q374 -1175 487 -1276Q600 -1377 647 -1472H763Z" fill="#000"/>
<text transform="translate(465.44,527.00) scale(1.0,1)" text-anchor="start" fill="#000" font-size="18.5">0</text>
<path transform="translate(516.65,527.00) scale(0.00903)" d="M763 0H583V-1147Q518 -1085 412.5 -1023Q307 -961 223 -930V-1104Q374 -1175 487 -1276Q600 -1377 647 -1472H763Z" fill="#000"/>
<text transform="translate(526.93,527.00) scale(1.0,1)" text-anchor="start" fill="#000" font-size="18.5">2</text>
<path transform="translate(578.14,527.00) scale(0.00903)" d="M763 0H583V-1147Q518 -1085 412.5 -1023Q307 -961 223 -930V-1104Q374 -1175 487 -1276Q600 -1377 647 -1472H763Z" fill="#000"/>
<text transform="translate(588.42,527.00) scale(1.0,1)" text-anchor="start" fill="#000" font-size="18.5">4</text>
<path transform="translate(639.63,527.00) scale(0.00903)" d="M763 0H583V-1147Q518 -1085 412.5 -1023Q307 -961 223 -930V-1104Q374 -1175 487 -1276Q600 -1377 647 -1472H763Z" fill="#000"/>
<text transform="translate(649.91,527.00) scale(1.0,1)" text-anchor="start" fill="#000" font-size="18.5">6</text>
<path transform="translate(701.11,527.00) scale(0.00903)" d="M763 0H583V-1147Q518 -1085 412.5 -1023Q307 -961 223 -930V-1104Q374 -1175 487 -1276Q600 -1377 647 -1472H763Z" fill="#000"/>
<text transform="translate(711.40,527.00) scale(1.0,1)" text-anchor="start" fill="#000" font-size="18.5">8</text>
<text transform="translate(146.10,507.80) scale(1.0,1)" text-anchor="end" fill="#000" font-size="18.5">0</text>
<text transform="translate(146.10,429.78) scale(1.0,1)" text-anchor="end" fill="#000" font-size="18.5">0.2</text>
<text transform="translate(146.10,351.76) scale(1.0,1)" text-anchor="end" fill="#000" font-size="18.5">0.4</text>
<text transform="translate(146.10,273.74) scale(1.0,1)" text-anchor="end" fill="#000" font-size="18.5">0.6</text>
<text transform="translate(146.10,195.72) scale(1.0,1)" text-anchor="end" fill="#000" font-size="18.5">0.8</text>
<path transform="translate(135.81,117.70) scale(0.00903)" d="M763 0H583V-1147Q518 -1085 412.5 -1023Q307 -961 223 -930V-1104Q374 -1175 487 -1276Q600 -1377 647 -1472H763Z" fill="#000"/>
<text transform="translate(626.90,437.30) scale(1.0,1)" text-anchor="end" fill="#ff0000" font-size="18.5">Sp(2): 4d - cold start</text>
<text transform="translate(621.90,455.30) scale(1.0,1)" text-anchor="end" fill="#00ff00" font-size="18.5">Sp(2): 4d - hot start</text>
<text transform="translate(626.90,473.40) scale(1.0,1)" text-anchor="end" fill="#0000ff" font-size="18.5">Sp(2): 3d - cold start</text>
<text transform="translate(621.90,491.60) scale(1.0,1)" text-anchor="end" fill="#ff00ff" font-size="18.5">Sp(2): 3d - hot start</text>
<path d="M60.4 298.3L56.2 306.9L60.4 315.5" stroke="#000" stroke-width="1" fill="none"/>
<path d="M108.9 298.3L113.1 306.9L108.9 315.5" stroke="#000" stroke-width="1" fill="none"/>
<text transform="translate(61.20,312.20) scale(1.0,1)" text-anchor="start" fill="#000" font-size="18.5">Tr</text>
<text transform="translate(83.80,312.20) scale(1.0,1)" text-anchor="start" fill="#000" font-size="18.5">U</text>
<rect x="100.4" y="309.5" width="5" height="6.9" fill="none" stroke="#777" stroke-width="0.8"/>
<text transform="translate(114.60,312.20) scale(1.0,1)" text-anchor="start" fill="#000" font-size="18.5">/4</text>
<text transform="translate(417.40,556.10) scale(1.0,1)" text-anchor="start" fill="#000" font-size="18.5">8/g</text>
<text transform="translate(443.20,546.60) scale(1.0,1)" text-anchor="start" fill="#000" font-size="14.7">2</text>
</g>
</svg>
</body></html>
